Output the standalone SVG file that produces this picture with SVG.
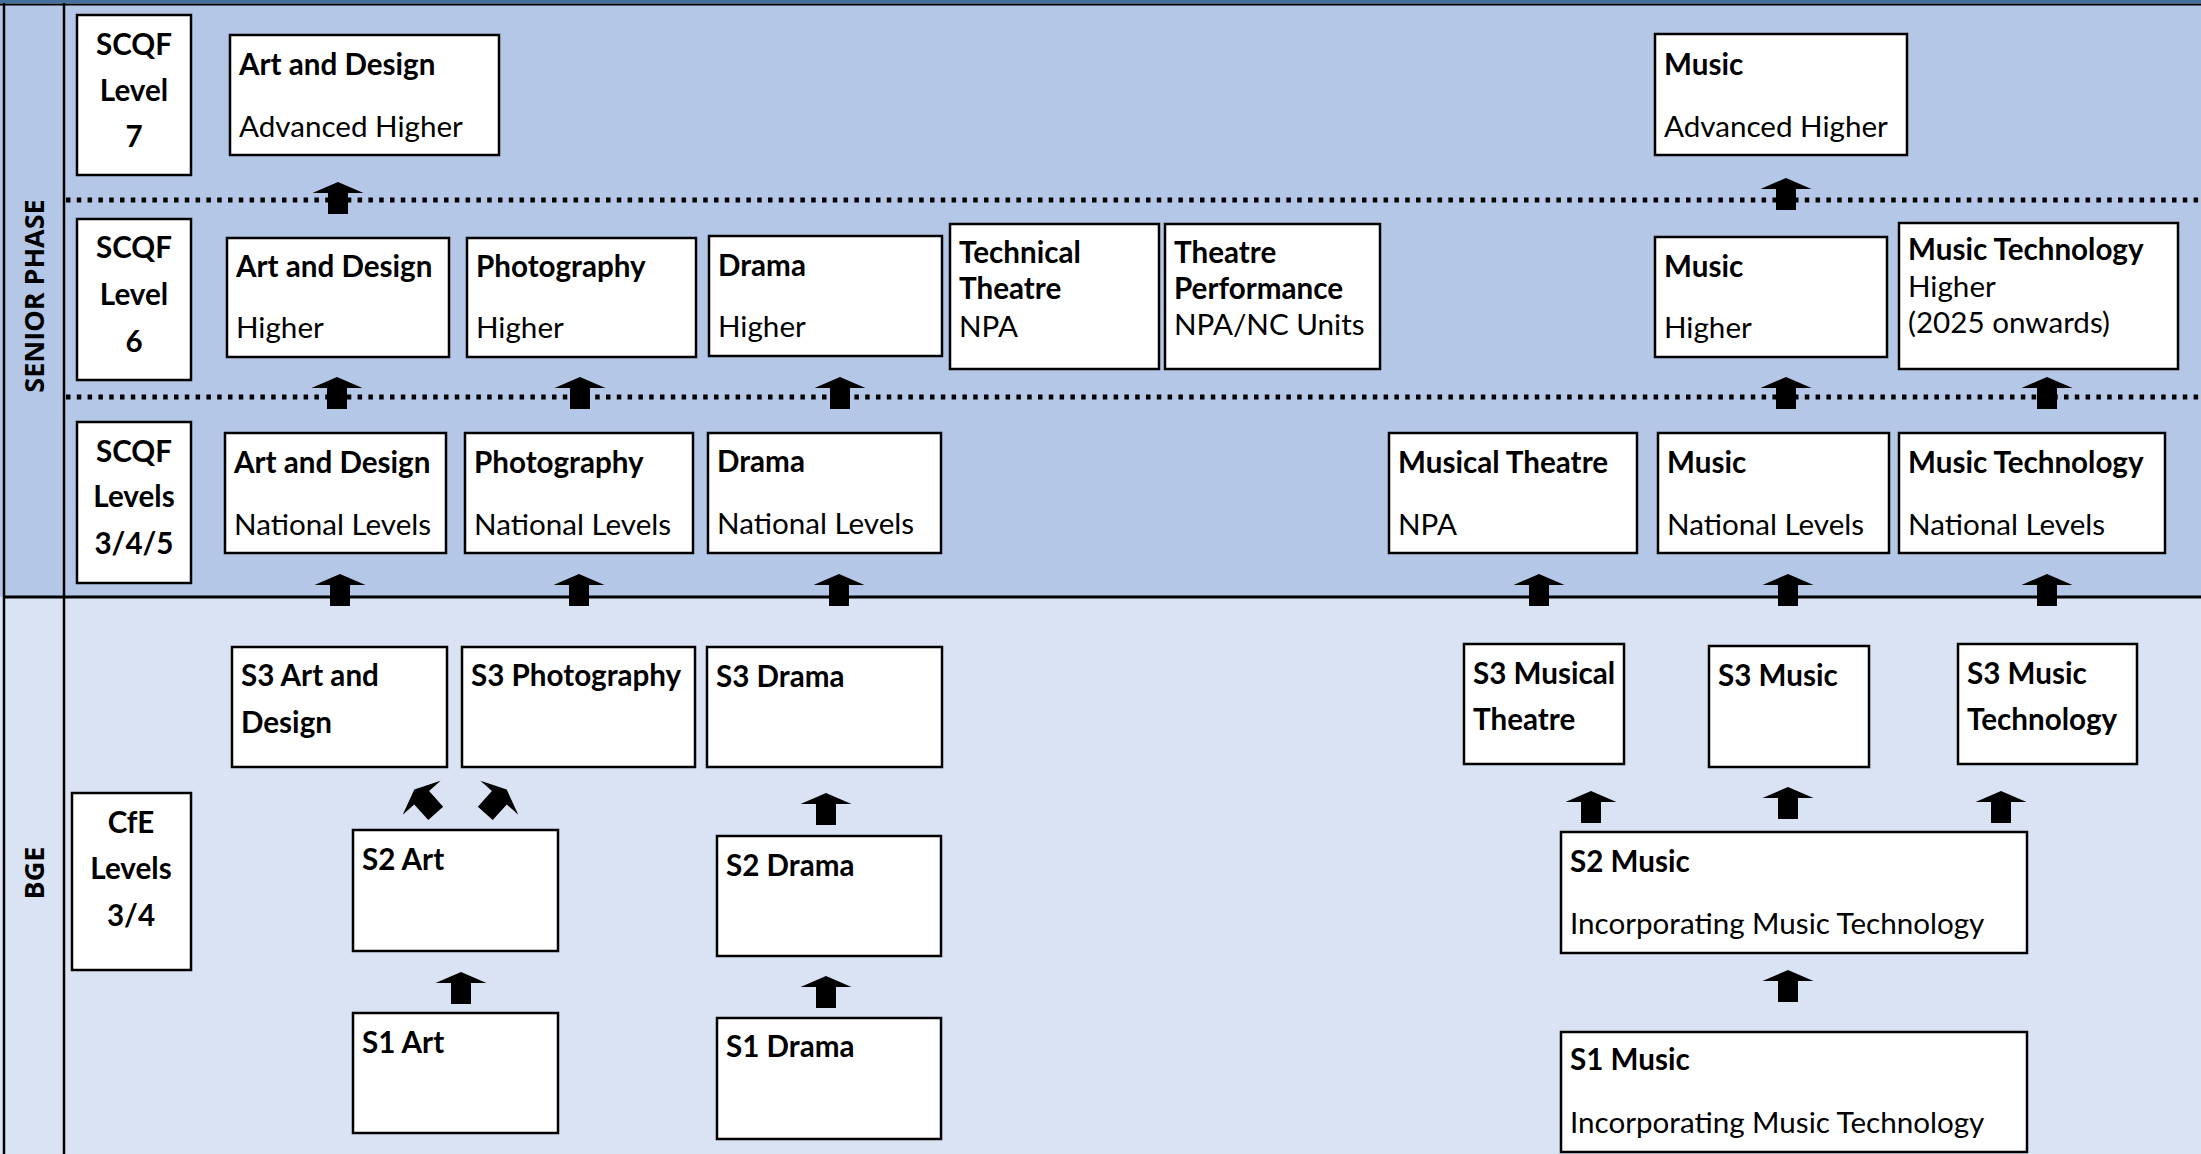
<svg xmlns="http://www.w3.org/2000/svg" xmlns:xlink="http://www.w3.org/1999/xlink" width="2201" height="1154" viewBox="0 0 2201 1154">
<style>
.box{fill:#fff;stroke:#000;stroke-width:2.5}
.t{font-family:Lato,"Open Sans",sans-serif;font-weight:bold;font-size:29.6px;fill:#000}
.s{font-family:Lato,"Open Sans",sans-serif;font-size:29.6px;fill:#000}
.lv{font-family:Lato,"Open Sans",sans-serif;font-weight:bold;font-size:29.6px;fill:#000;text-anchor:middle}
.ph{font-family:"Open Sans",sans-serif;font-weight:bold;font-size:27px;fill:#000;text-anchor:middle}
.dot{stroke:#000;stroke-width:5;stroke-dasharray:4.5 6.3;fill:none}
.arr{fill:#000}
</style>
<defs>
<path id="up" d="M0,-16 L25.5,-5 L10,-5 L10,16 L-10,16 L-10,-5 L-25.5,-5 Z"/>
</defs>
<g id="background">
<rect x="0" y="0" width="2201" height="597" fill="#B4C7E7"/>
<rect x="0" y="597" width="2201" height="557" fill="#DAE3F3"/>
<rect x="0" y="0" width="2201" height="3" fill="#41719C"/>
<line x1="0" y1="4.5" x2="2201" y2="4.5" stroke="#000" stroke-width="2"/>
<line x1="4" y1="3" x2="4" y2="1154" stroke="#000" stroke-width="2.5"/>
<line x1="64" y1="3" x2="64" y2="1154" stroke="#000" stroke-width="2.5"/>
<line x1="4" y1="597" x2="2201" y2="597" stroke="#000" stroke-width="3"/>
<line class="dot" x1="66" y1="200" x2="2201" y2="200"/>
<line class="dot" x1="66" y1="397" x2="2201" y2="397"/>
<text class="ph" transform="translate(44,296) rotate(-90)">SENIOR PHASE</text>
<text class="ph" transform="translate(44,873) rotate(-90)">BGE</text>
</g>
<g id="nodes">
<g id="lvl7"><rect class="box" x="77" y="15" width="114" height="160"/><text class="lv" x="134" y="55">SCQF</text><text class="lv" x="134" y="101">Level</text><text class="lv" x="134" y="147">7</text></g>
<g id="ad-ah"><rect class="box" x="230" y="35" width="269" height="120"/><text class="t" x="239" y="75">Art and Design</text><text class="s" x="239" y="137">Advanced Higher</text></g>
<g id="music-ah"><rect class="box" x="1655" y="34" width="252" height="121"/><text class="t" x="1664" y="75">Music</text><text class="s" x="1664" y="137">Advanced Higher</text></g>
<g id="lvl6"><rect class="box" x="77" y="219" width="114" height="161"/><text class="lv" x="134" y="258">SCQF</text><text class="lv" x="134" y="305">Level</text><text class="lv" x="134" y="352">6</text></g>
<g id="ad-h"><rect class="box" x="227" y="238" width="222" height="119"/><text class="t" x="236" y="277">Art and Design</text><text class="s" x="236" y="338">Higher</text></g>
<g id="photo-h"><rect class="box" x="467" y="238" width="229" height="119"/><text class="t" x="476" y="277">Photography</text><text class="s" x="476" y="338">Higher</text></g>
<g id="drama-h"><rect class="box" x="709" y="236" width="233" height="120"/><text class="t" x="718" y="276">Drama</text><text class="s" x="718" y="337">Higher</text></g>
<g id="techtheatre"><rect class="box" x="950" y="224" width="209" height="145"/><text class="t" x="959" y="263">Technical</text><text class="t" x="959" y="299">Theatre</text><text class="s" x="959" y="337">NPA</text></g>
<g id="theatreperf"><rect class="box" x="1165" y="224" width="215" height="145"/><text class="t" x="1174" y="263">Theatre</text><text class="t" x="1174" y="299">Performance</text><text class="s" x="1174" y="335">NPA/NC Units</text></g>
<g id="music-h"><rect class="box" x="1655" y="237" width="232" height="120"/><text class="t" x="1664" y="277">Music</text><text class="s" x="1664" y="338">Higher</text></g>
<g id="mustech-h"><rect class="box" x="1899" y="223" width="279" height="146"/><text class="t" x="1908" y="260">Music Technology</text><text class="s" x="1908" y="297">Higher</text><text class="s" x="1908" y="333">(2025 onwards)</text></g>
<g id="lvl345"><rect class="box" x="77" y="422" width="114" height="161"/><text class="lv" x="134" y="462">SCQF</text><text class="lv" x="134" y="507">Levels</text><text class="lv" x="134" y="554">3/4/5</text></g>
<g id="ad-nl"><rect class="box" x="225" y="433" width="221" height="120"/><text class="t" x="234" y="473">Art and Design</text><text class="s" x="234" y="535">National Levels</text></g>
<g id="photo-nl"><rect class="box" x="465" y="433" width="228" height="120"/><text class="t" x="474" y="473">Photography</text><text class="s" x="474" y="535">National Levels</text></g>
<g id="drama-nl"><rect class="box" x="708" y="433" width="233" height="120"/><text class="t" x="717" y="472">Drama</text><text class="s" x="717" y="534">National Levels</text></g>
<g id="mt-npa"><rect class="box" x="1389" y="433" width="248" height="120"/><text class="t" x="1398" y="473">Musical Theatre</text><text class="s" x="1398" y="535">NPA</text></g>
<g id="music-nl"><rect class="box" x="1658" y="433" width="231" height="120"/><text class="t" x="1667" y="473">Music</text><text class="s" x="1667" y="535">National Levels</text></g>
<g id="mustech-nl"><rect class="box" x="1899" y="433" width="266" height="120"/><text class="t" x="1908" y="473">Music Technology</text><text class="s" x="1908" y="535">National Levels</text></g>
<g id="s3-ad"><rect class="box" x="232" y="647" width="215" height="120"/><text class="t" x="241" y="686">S3 Art and</text><text class="t" x="241" y="733">Design</text></g>
<g id="s3-photo"><rect class="box" x="462" y="647" width="233" height="120"/><text class="t" x="471" y="686">S3 Photography</text></g>
<g id="s3-drama"><rect class="box" x="707" y="647" width="235" height="120"/><text class="t" x="716" y="687">S3 Drama</text></g>
<g id="s3-mt"><rect class="box" x="1464" y="644" width="160" height="120"/><text class="t" x="1473" y="684">S3 Musical</text><text class="t" x="1473" y="730">Theatre</text></g>
<g id="s3-music"><rect class="box" x="1709" y="646" width="160" height="121"/><text class="t" x="1718" y="686">S3 Music</text></g>
<g id="s3-mustech"><rect class="box" x="1958" y="644" width="179" height="120"/><text class="t" x="1967" y="684">S3 Music</text><text class="t" x="1967" y="730">Technology</text></g>
<g id="cfe"><rect class="box" x="72" y="793" width="119" height="177"/><text class="lv" x="131" y="833">CfE</text><text class="lv" x="131" y="879">Levels</text><text class="lv" x="131" y="926">3/4</text></g>
<g id="s2-art"><rect class="box" x="353" y="830" width="205" height="121"/><text class="t" x="362" y="870">S2 Art</text></g>
<g id="s1-art"><rect class="box" x="353" y="1013" width="205" height="120"/><text class="t" x="362" y="1053">S1 Art</text></g>
<g id="s2-drama"><rect class="box" x="717" y="836" width="224" height="120"/><text class="t" x="726" y="876">S2 Drama</text></g>
<g id="s1-drama"><rect class="box" x="717" y="1018" width="224" height="121"/><text class="t" x="726" y="1057">S1 Drama</text></g>
<g id="s2-music"><rect class="box" x="1561" y="832" width="466" height="121"/><text class="t" x="1570" y="872">S2 Music</text><text class="s" x="1570" y="934">Incorporating Music Technology</text></g>
<g id="s1-music"><rect class="box" x="1561" y="1032" width="466" height="120"/><text class="t" x="1570" y="1070">S1 Music</text><text class="s" x="1570" y="1133">Incorporating Music Technology</text></g>
</g>
<g id="connectors" class="arr">
<use xlink:href="#up" transform="translate(338,198)"/>
<use xlink:href="#up" transform="translate(1786,194)"/>
<use xlink:href="#up" transform="translate(337,393)"/>
<use xlink:href="#up" transform="translate(580,393)"/>
<use xlink:href="#up" transform="translate(840,393)"/>
<use xlink:href="#up" transform="translate(1786,393)"/>
<use xlink:href="#up" transform="translate(2047,393)"/>
<use xlink:href="#up" transform="translate(340,590)"/>
<use xlink:href="#up" transform="translate(579,590)"/>
<use xlink:href="#up" transform="translate(839,590)"/>
<use xlink:href="#up" transform="translate(1539,590)"/>
<use xlink:href="#up" transform="translate(1788,590)"/>
<use xlink:href="#up" transform="translate(2047,590)"/>
<use xlink:href="#up" transform="translate(826,809)"/>
<use xlink:href="#up" transform="translate(461,988)"/>
<use xlink:href="#up" transform="translate(826,992)"/>
<use xlink:href="#up" transform="translate(1591,807)"/>
<use xlink:href="#up" transform="translate(1788,803)"/>
<use xlink:href="#up" transform="translate(2001,807)"/>
<use xlink:href="#up" transform="translate(1788,986)"/>
<use xlink:href="#up" transform="translate(425,801.5) rotate(-42)"/>
<use xlink:href="#up" transform="translate(496,801.5) rotate(42)"/>
</g>
</svg>
